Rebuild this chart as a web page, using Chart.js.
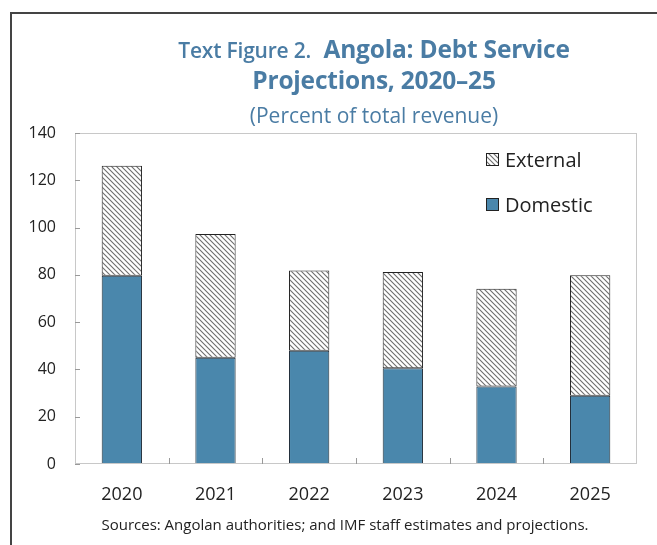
<!DOCTYPE html>
<html>
<head>
<meta charset="utf-8">
<script src="https://cdn.jsdelivr.net/npm/chart.js@4.4.0/dist/chart.umd.min.js"></script>
<style>
  html, body { margin: 0; padding: 0; background: #fff; }
  #wrap { position: relative; width: 657px; height: 545px; overflow: hidden; font-family: "Open Sans", sans-serif; }
  #frame { position: absolute; left: 10px; top: 12px; width: 700px; height: 600px; border-top: 2px solid #444; border-left: 2px solid #444; }
  canvas { position: absolute; left: 0; top: 0; }
  .t { position: absolute; left: 0; width: 748px; text-align: center; color: #4a7ca4; white-space: nowrap; line-height: 1.2; }
  #title1 { top: 34px; font-size: 24.5px; font-weight: 700; letter-spacing: -0.2px; }
  #title1 .small { font-size: 21px; font-weight: 600; }
  #title2 { top: 65px; font-size: 24.5px; font-weight: 700; letter-spacing: -0.2px; }
  #sub { top: 103px; font-size: 21px; font-weight: 400; }
  #source { position: absolute; left: 0; width: 690px; top: 514px; text-align: center; font-size: 15px; color: #222; line-height: 20px; }
</style>
</head>
<body>
<div id="wrap">
  <div id="frame"></div>
  <canvas id="chart" width="657" height="545"></canvas>
  <div class="t" id="title1"><span class="small">Text Figure 2.</span>&nbsp; Angola: Debt Service</div>
  <div class="t" id="title2">Projections, 2020–25</div>
  <div class="t" id="sub">(Percent of total revenue)</div>
  <div id="source">Sources: Angolan authorities; and IMF staff estimates and projections.</div>
</div>
<script>
const years = ['2020', '2021', '2022', '2023', '2024', '2025'];
const domestic = [79.6, 44.9, 47.9, 40.5, 32.8, 28.9];
const external = [46.6, 52.4, 33.9, 40.7, 41.3, 50.9];
const yTicks = [0, 20, 40, 60, 80, 100, 120, 140];

function makeHatch() {
    const c = document.createElement('canvas');
    c.width = 5; c.height = 5;
    const g = c.getContext('2d');
    g.fillStyle = '#fff';
    g.fillRect(0, 0, 5, 5);
    g.strokeStyle = '#6e6e6e';
    g.lineWidth = 1.1;
    g.beginPath();
    g.moveTo(-1, -1); g.lineTo(6, 6);
    g.moveTo(-1, 4); g.lineTo(1, 6);
    g.moveTo(4, -1); g.lineTo(6, 1);
    g.stroke();
    return g.createPattern(c, 'repeat');
}
const hatch = makeHatch();
const blue = '#4a87ac';

// box, inward ticks and the in-plot legend
const extras = {
    id: 'extras',
    afterDraw(chart) {
        const ctx = chart.ctx;
        const a = chart.chartArea;
        const y = chart.scales.y;
        ctx.save();
        ctx.strokeStyle = '#c8c8c8';
        ctx.lineWidth = 1;
        ctx.strokeRect(a.left + 0.5, a.top + 0.5, a.right - a.left - 1, a.bottom - a.top - 1);
        ctx.strokeStyle = '#999';
        ctx.beginPath();
        yTicks.forEach(v => {
            const py = Math.round(y.getPixelForValue(v)) + 0.5;
            ctx.moveTo(a.left, py); ctx.lineTo(a.left + 5, py);
        });
        const step = (a.right - a.left) / years.length;
        for (let i = 1; i < years.length; i++) {
            const px = Math.round(a.left + step * i) + 0.5;
            ctx.moveTo(px, a.bottom); ctx.lineTo(px, a.bottom - 6);
        }
        ctx.stroke();

        // legend
        const items = chart.data.datasets.slice().reverse();
        ctx.font = '20px "Open Sans", sans-serif';
        ctx.textBaseline = 'middle';
        items.forEach((ds, i) => {
            const cy = 160 + i * 45;
            ctx.fillStyle = ds.backgroundColor;
            ctx.fillRect(486, cy - 7, 13, 13);
            ctx.strokeStyle = '#222';
            ctx.strokeRect(486.5, cy - 6.5, 12, 12);
            ctx.fillStyle = '#222';
            ctx.fillText(ds.label, 505, cy + 1);
        });
        ctx.restore();
    }
};

new Chart(document.getElementById('chart'), {
    type: 'bar',
    data: {
        labels: years,
        datasets: [
            { label: 'Domestic', data: domestic, backgroundColor: blue, borderColor: '#1d2a36', borderWidth: 1, borderSkipped: false },
            { label: 'External', data: external, backgroundColor: hatch, borderColor: '#222', borderWidth: 1, borderSkipped: false }
        ]
    },
    options: {
        responsive: false,
        animation: false,
        layout: { padding: { top: 133, right: 20, left: 0, bottom: 0 } },
        datasets: { bar: { categoryPercentage: 1, barPercentage: 0.43 } },
        plugins: { legend: { display: false }, tooltip: { enabled: false } },
        scales: {
            x: {
                stacked: true,
                grid: { display: false },
                border: { display: false },
                ticks: { color: '#222', font: { family: 'Open Sans', size: 18 }, padding: 12 },
                afterFit: s => { s.height = 81; }
            },
            y: {
                stacked: true,
                min: 0, max: 140,
                grid: { display: false, drawTicks: false },
                border: { display: false },
                ticks: { stepSize: 20, color: '#222', font: { family: 'Open Sans', size: 16 }, padding: 19 },
                afterFit: s => { s.width = 75; }
            }
        }
    },
    plugins: [extras]
});
</script>
</body>
</html>
